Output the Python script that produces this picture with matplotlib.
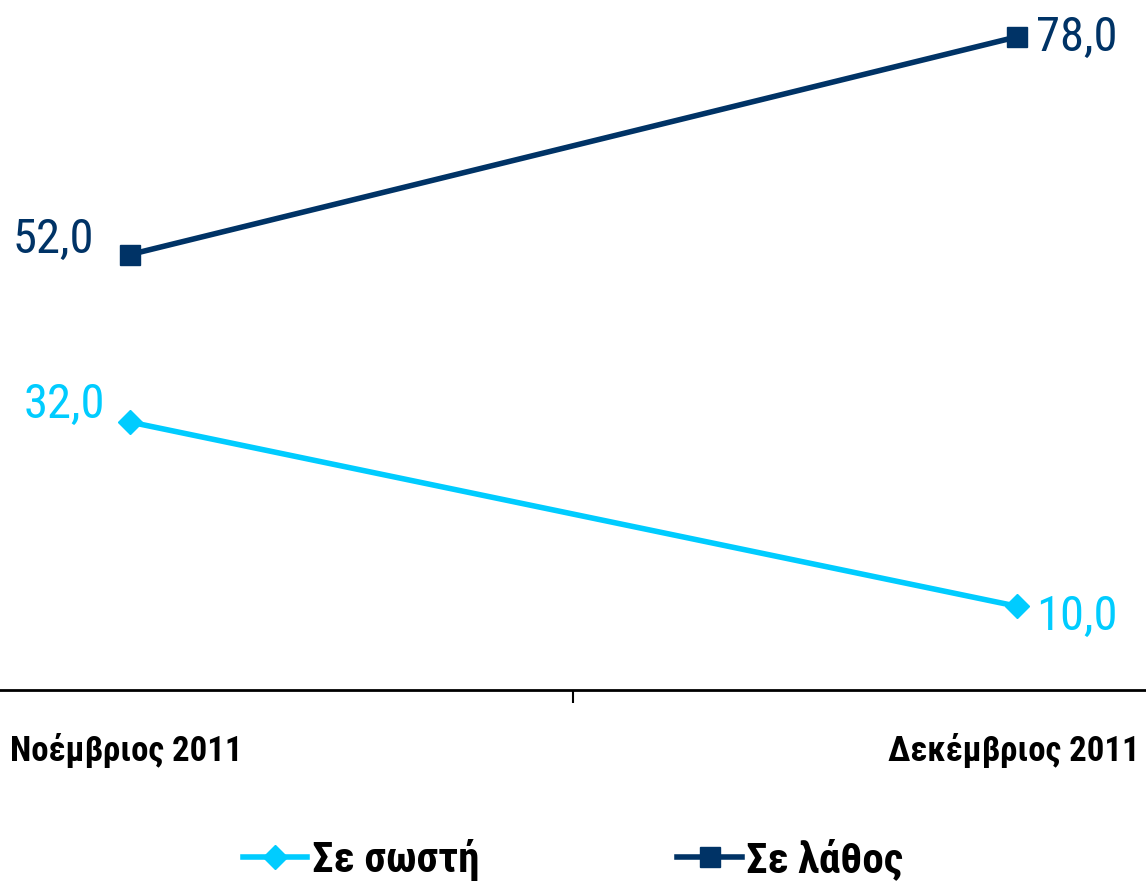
import matplotlib.pyplot as plt

# data
months = ["Νοέμβριος 2011", "Δεκέμβριος 2011"]
series_names = ["Σε σωστή", "Σε λάθος"]
correct = [32.0, 10.0]
wrong = [52.0, 78.0]

plt.rcParams['font.family'] = ['Roboto Condensed', 'DejaVu Sans']

cyan = "#00CCFF"
navy = "#003366"

fig = plt.figure(figsize=(11.46, 8.85), dpi=100)
ax = fig.add_axes([0, 1 - 690 / 885, 1, 690 / 885])

x = list(range(len(months)))
ax.plot(x, correct, color=cyan, lw=4, marker='D', ms=12, label=series_names[0])
ax.plot(x, wrong, color=navy, lw=4, marker='s', ms=15, label=series_names[1])

ax.set_xlim(-130 / 887, (1146 - 130) / 887)
ax.set_ylim(0, 82.4)


def fmt(v):
    return f"{v:.1f}".replace('.', ',')


# value labels
ax.annotate(fmt(correct[0]), (x[0], correct[0]), xytext=(-18, -4),
            textcoords='offset points', ha='right', va='bottom', fontsize=35, color=cyan)
ax.annotate(fmt(correct[1]), (x[1], correct[1]), xytext=(14, -8),
            textcoords='offset points', ha='left', va='center', fontsize=35, color=cyan)
ax.annotate(fmt(wrong[0]), (x[0], wrong[0]), xytext=(-26, -6),
            textcoords='offset points', ha='right', va='bottom', fontsize=35, color=navy)
ax.annotate(fmt(wrong[1]), (x[1], wrong[1]), xytext=(14, -1),
            textcoords='offset points', ha='left', va='center', fontsize=35, color=navy)

for s in ['top', 'right', 'left']:
    ax.spines[s].set_visible(False)
ax.spines['bottom'].set_linewidth(2)
ax.set_yticks([])
ax.set_xticks([0.5])
ax.set_xticklabels([''])
ax.tick_params(axis='x', length=9, width=1.5, direction='out')

fig.text(10 / 1146, 1 - 750 / 885, months[0], ha='left', va='center',
         fontsize=25, fontweight='bold')
fig.text(1140 / 1146, 1 - 750 / 885, months[1], ha='right', va='center',
         fontsize=25, fontweight='bold')

fig.legend(loc='center', bbox_to_anchor=(0.5, 1 - 860 / 885), ncol=2, frameon=False,
           prop={'size': 31, 'weight': 'bold'}, handlelength=1.5, handletextpad=0.1,
           columnspacing=4.6)

fig.savefig("out.png", dpi=100)
